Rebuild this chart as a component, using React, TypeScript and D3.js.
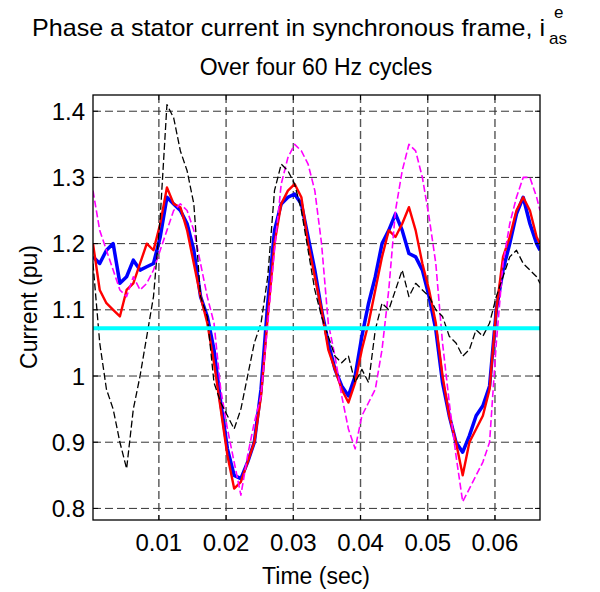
import React from "react";
import * as d3 from "d3";

const times: number[] = d3.range(0, 67).map((i) => 0.0002 + i * 0.001).concat([0.0667]);

const blue = [1.18, 1.17, 1.19, 1.2, 1.14, 1.15, 1.175, 1.16, 1.165, 1.17, 1.21, 1.27, 1.26, 1.25, 1.23, 1.19, 1.12, 1.09, 1.04, 0.96, 0.89, 0.85, 0.845, 0.87, 0.9, 0.98, 1.11, 1.22, 1.26, 1.27, 1.275, 1.26, 1.21, 1.16, 1.1, 1.05, 1.01, 0.985, 0.97, 1.0, 1.06, 1.11, 1.15, 1.2, 1.22, 1.245, 1.22, 1.185, 1.18, 1.16, 1.12, 1.07, 0.99, 0.94, 0.9, 0.885, 0.91, 0.94, 0.955, 0.985, 1.1, 1.16, 1.2, 1.245, 1.27, 1.23, 1.2, 1.19];
const red = [1.2, 1.13, 1.11, 1.1, 1.09, 1.13, 1.14, 1.17, 1.2, 1.19, 1.23, 1.285, 1.26, 1.255, 1.22, 1.17, 1.12, 1.08, 1.02, 0.95, 0.88, 0.83, 0.84, 0.87, 0.9, 0.97, 1.09, 1.2, 1.26, 1.28, 1.29, 1.27, 1.2, 1.15, 1.1, 1.04, 1.01, 0.98, 0.96, 0.99, 1.04, 1.08, 1.13, 1.18, 1.22, 1.21, 1.23, 1.255, 1.22, 1.17, 1.13, 1.08, 1.0, 0.94, 0.9, 0.85, 0.9, 0.92, 0.94, 0.98, 1.1, 1.18, 1.21, 1.25, 1.27, 1.25, 1.21, 1.2];
const magenta = [1.28, 1.22, 1.19, 1.16, 1.13, 1.12, 1.15, 1.13, 1.14, 1.16, 1.19, 1.22, 1.25, 1.26, 1.25, 1.22, 1.17, 1.12, 1.08, 0.98, 0.92, 0.87, 0.82, 0.88, 0.93, 0.97, 1.08, 1.19, 1.29, 1.33, 1.35, 1.34, 1.32, 1.28, 1.2, 1.08, 1.03, 0.97, 0.92, 0.89, 0.94, 0.96, 0.98, 1.04, 1.13, 1.25, 1.31, 1.35, 1.34, 1.3, 1.24, 1.17, 1.05, 0.96, 0.88, 0.81, 0.83, 0.85, 0.87, 0.9, 1.05, 1.17, 1.23, 1.27, 1.3, 1.3, 1.27, 1.25];
const black = [1.17, 1.05, 0.98, 0.95, 0.9, 0.86, 0.95, 1.0, 1.06, 1.12, 1.24, 1.41, 1.39, 1.34, 1.31, 1.26, 1.12, 1.09, 0.99, 0.96, 0.94, 0.92, 0.95, 1.0, 1.05, 1.08, 1.15, 1.28, 1.32, 1.31, 1.29, 1.25, 1.19, 1.13, 1.09, 1.06, 1.03, 1.02, 1.03, 0.99, 1.01, 0.99, 1.07, 1.11, 1.1, 1.13, 1.16, 1.12, 1.14, 1.13, 1.12, 1.1, 1.09, 1.06, 1.05, 1.03, 1.04, 1.07, 1.06, 1.08, 1.12, 1.15, 1.18, 1.19, 1.17, 1.16, 1.15, 1.14];
const reference = 1.072;

const xTicks = [0.01, 0.02, 0.03, 0.04, 0.05, 0.06];
const xTickLabels = ["0.01", "0.02", "0.03", "0.04", "0.05", "0.06"];
const yTicks = [0.8, 0.9, 1.0, 1.1, 1.2, 1.3, 1.4];
const yTickLabels = ["0.8", "0.9", "1", "1.1", "1.2", "1.3", "1.4"];

const FONT = "'Liberation Sans', Arial, Helvetica, sans-serif";

export default function App() {
  const L = 93, R = 540, T = 95, B = 520;
  const x = d3.scaleLinear().domain([0.0002, 0.0667]).range([L, R]);
  const y = d3.scaleLinear().domain([0.7825, 1.4245]).range([B, T]);
  const line = (vals: number[]) =>
    d3.line<number>().x((_, i) => x(times[i])).y((d) => y(d))(vals) || "";

  const series = [
    { vals: blue, color: "#0000ff", w: 3.5, dash: "none" },
    { vals: red, color: "#ff0000", w: 2.4, dash: "none" },
    { vals: magenta, color: "#ff00ff", w: 1.6, dash: "7,3" },
    { vals: black, color: "#000000", w: 1.3, dash: "7,3" },
  ];

  return (
    <svg width={600} height={592} style={{ position: "absolute", left: 0, top: 0, background: "#fff" }} fontFamily={FONT}>
      <defs>
        <clipPath id="plotclip">
          <rect x={L} y={T} width={R - L} height={B - T} />
        </clipPath>
      </defs>
      <rect x={0} y={0} width={600} height={592} fill="#fff" />
      {xTicks.map((t) => (
        <line key={"gx" + t} x1={x(t)} x2={x(t)} y1={T} y2={B} stroke="#555" strokeWidth={1.4} strokeDasharray="8,4" />
      ))}
      {yTicks.map((v) => (
        <line key={"gy" + v} x1={L} x2={R} y1={y(v)} y2={y(v)} stroke="#333" strokeWidth={1} strokeDasharray="8,4" />
      ))}
      <g clipPath="url(#plotclip)">
        {series.map((s, i) => (
          <path key={i} d={line(s.vals)} fill="none" stroke={s.color} strokeWidth={s.w} strokeDasharray={s.dash} strokeLinejoin="round" />
        ))}
        <line x1={L} x2={R} y1={y(reference)} y2={y(reference)} stroke="#00ffff" strokeWidth={4} />
      </g>
      {xTicks.map((t) => (
        <g key={"tx" + t}>
          <line x1={x(t)} x2={x(t)} y1={B} y2={B - 5} stroke="#000" />
          <line x1={x(t)} x2={x(t)} y1={T} y2={T + 5} stroke="#000" />
        </g>
      ))}
      {yTicks.map((v) => (
        <g key={"ty" + v}>
          <line x1={L} x2={L + 5} y1={y(v)} y2={y(v)} stroke="#000" />
          <line x1={R} x2={R - 5} y1={y(v)} y2={y(v)} stroke="#000" />
        </g>
      ))}
      <rect x={L} y={T} width={R - L} height={B - T} fill="none" stroke="#000" strokeWidth={1.3} />
      {xTicks.map((t, i) => (
        <text key={"lx" + t} x={x(t)} y={551} textAnchor="middle" fontSize={24} fill="#000">{xTickLabels[i]}</text>
      ))}
      {yTicks.map((v, i) => (
        <text key={"ly" + v} x={85} y={y(v)} dy="0.36em" textAnchor="end" fontSize={24} fill="#000">{yTickLabels[i]}</text>
      ))}
      <text x={316} y={584} textAnchor="middle" fontSize={23} fill="#000">Time (sec)</text>
      <text transform="translate(37,307) rotate(-90)" textAnchor="middle" fontSize={23} fill="#000">Current (pu)</text>
      <text x={32} y={36} fontSize={24} fill="#000" textLength={513} lengthAdjust="spacingAndGlyphs">
        Phase a stator current in synchronous frame, i
      </text>
      <text x={554} y={18} fontSize={17} fill="#000">e</text>
      <text x={549} y={44} fontSize={17} fill="#000">as</text>
      <text x={316} y={75} textAnchor="middle" fontSize={23} fill="#000">Over four 60 Hz cycles</text>
    </svg>
  );
}
